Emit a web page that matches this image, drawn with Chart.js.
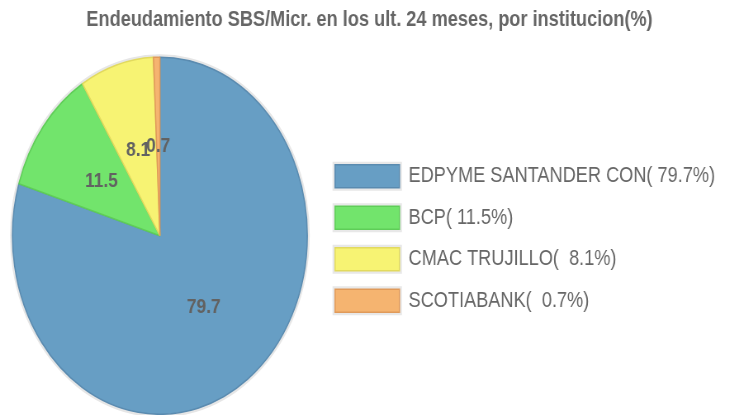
<!DOCTYPE html>
<html>
<head>
<meta charset="utf-8">
<script src="https://cdn.jsdelivr.net/npm/chart.js@4.4.0/dist/chart.umd.min.js"></script>
<style>
  html, body { margin: 0; padding: 0; background: #fff; overflow: hidden; }
  #wrap { width: 895px; height: 415px; transform: scaleX(0.8257); transform-origin: 0 0; }
  canvas { display: block; }
</style>
</head>
<body>
<div id="wrap"><canvas id="c" width="895" height="415"></canvas></div>
<script>
const titleText = "Endeudamiento SBS/Micr. en los ult. 24 meses, por institucion(%)";
const categories = ["EDPYME SANTANDER CON", "BCP", "CMAC TRUJILLO", "SCOTIABANK"];
const values = [79.7, 11.5, 8.1, 0.7];
const fillColors = ["#679ec4", "#72e46c", "#f7f373", "#f5b470"];
const borderColors = ["#5a8bb0", "#5fcd58", "#e2da5e", "#e09a5a"];

const legendLabels = categories.map((c, i) => c + "(" + values[i].toFixed(1).padStart(5, " ") + "%)");

// empty spacer box on the far right (keeps title centred on full width)
const spacerPlugin = {
  id: "rightSpacer",
  beforeInit(chart) {
    const box = {
      position: "right",
      weight: 5000,
      fullSize: false,
      options: { display: true },
      width: 0, height: 0, left: 0, top: 0, right: 0, bottom: 0,
      isHorizontal() { return false; },
      getPadding() { return { left: 0, top: 0, right: 0, bottom: 0 }; },
      update(maxWidth, maxHeight) { this.width = 19; this.height = maxHeight; return {}; },
      draw() {}
    };
    Chart.layouts.addBox(chart, box);
  }
};

const haloPlugin = {
  id: "halo",
  beforeDatasetsDraw(chart) {
    const meta = chart.getDatasetMeta(0);
    const arc = meta.data[0];
    if (!arc) return;
    const ctx = chart.ctx;
    ctx.save();
    ctx.beginPath();
    ctx.arc(arc.x, arc.y, arc.outerRadius + 3, 0, Math.PI * 2);
    ctx.fillStyle = "#e6e6e6";
    ctx.fill();
    ctx.restore();
  },
  beforeDraw(chart) {
    const lg = chart.legend;
    if (!lg || !lg.legendHitBoxes) return;
    const ctx = chart.ctx;
    const o = lg.options.labels;
    ctx.save();
    ctx.fillStyle = "#e8e8e8";
    lg.legendHitBoxes.forEach(hb => {
      ctx.fillRect(hb.left - 3, hb.top - 3, o.boxWidth + 6, o.boxHeight + 6);
    });
    ctx.restore();
  }
};

const valueLabelPlugin = {
  id: "valueLabels",
  afterDatasetsDraw(chart) {
    const meta = chart.getDatasetMeta(0);
    const ctx = chart.ctx;
    ctx.save();
    ctx.font = "bold 21px 'Liberation Sans', Arial, sans-serif";
    ctx.fillStyle = "#626262";
    ctx.textAlign = "center";
    ctx.textBaseline = "middle";
    meta.data.forEach((arc, i) => {
      const p = arc.tooltipPosition();
      ctx.fillText(String(values[i]), p.x, p.y);
    });
    ctx.restore();
  }
};

new Chart(document.getElementById("c"), {
  type: "pie",
  data: {
    labels: legendLabels,
    datasets: [{
      data: values,
      backgroundColor: fillColors,
      borderColor: borderColors,
      borderWidth: 1.5,
      hoverOffset: 0
    }]
  },
  options: {
    responsive: false,
    animation: false,
    layout: { padding: 0 },
    plugins: {
      title: {
        display: true,
        text: titleText,
        color: "#666666",
        font: { family: "'Liberation Sans', Arial, sans-serif", size: 22, weight: "bold" },
        padding: { top: 7, bottom: 23 }
      },
      legend: {
        position: "right",
        maxWidth: 700,
        title: {
          display: true,
          text: " ",
          font: { size: 10 },
          padding: { top: 50, bottom: 0 }
        },
        labels: {
          boxWidth: 78,
          boxHeight: 23,
          padding: 18.5,
          color: "#666666",
          font: { family: "'Liberation Sans', Arial, sans-serif", size: 22 }
        }
      },
      tooltip: { enabled: false }
    }
  },
  plugins: [spacerPlugin, haloPlugin, valueLabelPlugin]
});
</script>
</body>
</html>
